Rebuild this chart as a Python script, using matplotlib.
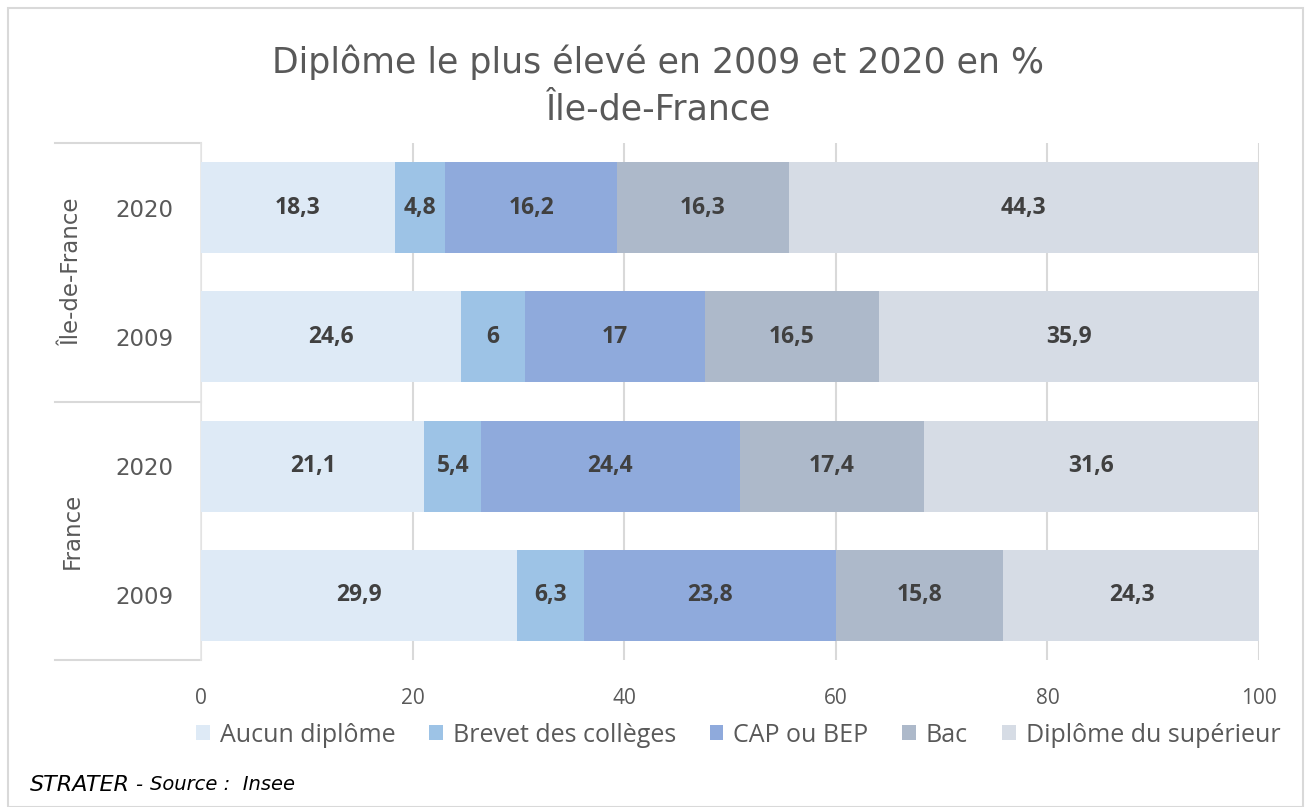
import matplotlib
matplotlib.use("Agg")
import matplotlib.pyplot as plt
from matplotlib.patches import Patch, Rectangle
from matplotlib.lines import Line2D
import numpy as np

plt.rcParams['font.family'] = ['Open Sans', 'DejaVu Sans']

# donnees (lignes du haut vers le bas)
groupes = ["Île-de-France", "France"]
annees = ["2020", "2009", "2020", "2009"]
categories = ["Aucun diplôme", "Brevet des collèges", "CAP ou BEP", "Bac", "Diplôme du supérieur"]
aucun = [18.3, 24.6, 21.1, 29.9]
brevet = [4.8, 6.0, 5.4, 6.3]
cap = [16.2, 17.0, 24.4, 23.8]
bac = [16.3, 16.5, 17.4, 15.8]
superieur = [44.3, 35.9, 31.6, 24.3]
series = [aucun, brevet, cap, bac, superieur]
couleurs = ["#DEEAF6", "#9DC3E6", "#8FAADC", "#ADB9CA", "#D6DCE5"]

gris = "#595959"
fig = plt.figure(figsize=(13.11, 8.07), dpi=100)
fig.patch.set_facecolor("white")
ax = fig.add_axes([201/1311, 1-660/807, 1058/1311, 517/807])

y = np.arange(len(annees))
gauche = np.zeros(len(annees))
for vals, coul, nom in zip(series, couleurs, categories):
    vals = np.array(vals)
    bars = ax.barh(y, vals, left=gauche, height=0.705, color=coul, label=nom, zorder=3)
    for b, v in zip(bars, vals):
        txt = ("%g" % v).replace(".", ",")
        ax.text(b.get_x() + b.get_width()/2, b.get_y() + b.get_height()/2, txt,
                ha="center", va="center", fontsize=16.5, fontweight="bold", color="#404040", zorder=4)
    gauche += vals

ax.set_xlim(0, 100)
ax.set_ylim(len(annees) - 0.5, -0.5)
ax.set_xticks([0, 20, 40, 60, 80, 100])
ax.tick_params(axis="x", length=0, labelsize=15, labelcolor=gris, pad=20)
ax.set_yticks(y)
ax.set_yticklabels(annees, family="DejaVu Sans")
ax.tick_params(axis="y", length=0, labelsize=16.5, labelcolor=gris, pad=20)
ax.grid(axis="x", color="#D9D9D9", linewidth=1.5, zorder=0)
for s in ["top", "right", "bottom"]:
    ax.spines[s].set_visible(False)
ax.spines["left"].set_color("#E6E6E6")
ax.spines["left"].set_linewidth(1.2)

# separateurs des groupes
x0 = (55 - 201) / 1058
for yy in [-0.5, 1.5, 3.5]:
    ax.add_line(Line2D([x0, 0], [yy, yy], transform=ax.get_yaxis_transform(),
                       color="#D9D9D9", linewidth=1.5, clip_on=False))
for i, g in enumerate(groupes):
    ax.text((72 - 201) / 1058, 2*i + 0.5, g, transform=ax.get_yaxis_transform(),
            rotation=90, ha="center", va="center", fontsize=16.5, color=gris, family="DejaVu Sans")

fig.text(658/1311, 1-62/807, "Diplôme le plus élevé en 2009 et 2020 en %",
         ha="center", va="center", fontsize=25, color=gris, family="DejaVu Sans")
fig.text(658/1311, 1-110/807, "Île-de-France",
         ha="center", va="center", fontsize=25, color=gris, family="DejaVu Sans")

handles = [Patch(facecolor=c) for c in couleurs]
fig.legend(handles, categories, loc="center", bbox_to_anchor=(738/1311, 1-735/807), ncol=5,
           frameon=False, fontsize=18, handlelength=0.55, handleheight=0.55,
           handletextpad=0.4, columnspacing=1.35, labelcolor=gris)

fig.text(30/1311, 1-785/807, "STRATER", ha="left", va="center", fontsize=16,
         style="italic", color="black", family="DejaVu Sans")
fig.text(135/1311, 1-785/807, "-", ha="left", va="center", fontsize=14,
         style="italic", color="black", family="DejaVu Sans")
fig.text(150/1311, 1-785/807, "Source :  Insee", ha="left", va="center", fontsize=14,
         style="italic", color="black", family="DejaVu Sans")

fig.add_artist(Rectangle((8/1311, 0), 1 - 16/1311, 1 - 8/807, transform=fig.transFigure,
                         fill=False, edgecolor="#D9D9D9", linewidth=1.5))

fig.savefig("out.png", dpi=100)
